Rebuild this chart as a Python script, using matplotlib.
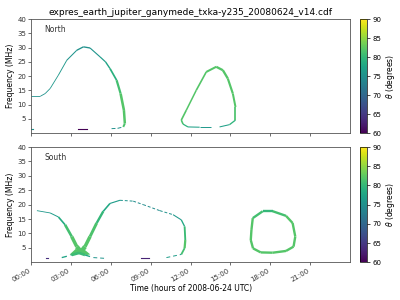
import numpy as np
import matplotlib
matplotlib.use("Agg")
import matplotlib.pyplot as plt
from matplotlib.collections import LineCollection
from matplotlib.colors import Normalize

title = "expres_earth_jupiter_ganymede_txka-y235_20080624_v14.cdf"

# North, arc 1 (hours, MHz, theta deg)
n1_t = [0.0, 0.7, 1.05, 1.43, 2.05, 2.68, 3.43, 3.93, 4.43, 5.18, 5.6, 5.93, 6.43, 6.73, 6.98, 7.05, 6.93]
n1_f = [13.0, 13.0, 13.9, 15.7, 20.4, 25.6, 29.1, 30.3, 29.9, 26.8, 25.0, 22.7, 18.6, 13.9, 8.1, 3.4, 2.2]
n1_th = [75, 75, 75, 76, 76, 76, 75, 75, 75, 76, 77, 78, 80, 82, 82, 82, 81]
n1b_t = [6.05, 6.5, 6.93]
n1b_f = [1.6, 1.7, 2.2]

# North, loop 2
n2_t = [13.93, 13.18, 12.43, 11.68, 11.3, 11.43, 11.8, 12.68, 13.5]
n2_f = [23.3, 21.5, 15.1, 8.1, 4.6, 3.2, 2.2, 2.1, 2.1]
n2_th = [82, 82, 82, 82, 82, 81, 78, 76, 76]
n2b_t = [14.18, 14.93, 15.38, 15.38, 15.18, 14.8, 14.43, 13.93]
n2b_f = [2.2, 3.0, 4.6, 9.2, 13.9, 19.2, 22.1, 23.3]
n2b_th = [76, 78, 81, 82, 82, 82, 82, 82]

# South, arc A (solid part, dotted top, solid end)
sa_t = [0.43, 1.43, 2.05, 2.55, 3.05, 3.43, 3.75, 4.05, 4.43, 4.93, 5.43, 5.93, 6.68]
sa_f = [17.9, 17.1, 15.7, 13.0, 8.9, 5.4, 3.6, 5.4, 8.9, 13.6, 17.7, 20.4, 21.5]
sa_th = [76, 76, 77, 80, 82, 82, 82, 82, 82, 81, 79, 77, 76]
sd_t = [6.68, 7.68, 8.43, 9.68, 10.68]
sd_f = [21.5, 21.2, 20.0, 17.9, 16.5]
sd_th = [76, 75, 74, 75, 75]
se_t = [10.68, 11.3, 11.55, 11.6, 11.55, 11.3]
se_f = [16.5, 14.7, 12.4, 7.7, 4.9, 2.7]
se_th = [75, 77, 79, 82, 82, 80]
sb_t = [2.3, 3.05, 3.6, 4.05, 4.68, 5.68]
sb_f = [1.6, 2.5, 3.2, 2.5, 1.6, 1.3]
sb_th = [76, 79, 82, 79, 76, 75]
sc_t = [10.18, 11.3]
sc_f = [1.6, 2.7]

# bow-tie patch where the South branches cross
bw_t = [2.9, 3.35, 3.63, 3.95, 4.45, 4.2, 3.63, 3.0]
bw_f = [2.7, 4.6, 4.0, 4.6, 2.7, 2.5, 3.0, 2.5]

# South, loop B
lb_t = [16.68, 17.43, 18.18, 19.18, 19.68, 19.88, 19.75, 19.18, 18.18, 17.28, 16.7, 16.53, 16.58, 16.68]
lb_f = [15.3, 17.7, 17.7, 16.1, 13.6, 8.9, 5.4, 3.9, 3.3, 3.4, 4.8, 7.7, 11.2, 15.3]
lb_th = [82, 80, 80, 82, 82, 82, 82, 82, 82, 82, 82, 82, 82, 82]

# short low-frequency bits (t0, t1, f, theta)
n_bits = [(0.0, 0.1, 1.5, 75), (3.5, 4.2, 1.5, 60)]
s_bits = [(1.15, 1.3, 1.3, 64), (8.3, 8.9, 1.3, 63)]

cmap = plt.get_cmap("viridis")
norm = Normalize(60, 90)


def draw(ax, t, f, th, w, ls="solid"):
    pts = np.column_stack([t, f])
    segs = np.stack([pts[:-1], pts[1:]], axis=1)
    th = np.asarray(th, float)
    w = np.asarray(w, float) if np.ndim(w) else np.full(len(t), w)
    lc = LineCollection(segs, colors=cmap(norm((th[:-1] + th[1:]) / 2)),
                        linewidths=(w[:-1] + w[1:]) / 2, linestyles=ls, capstyle="butt")
    ax.add_collection(lc)


plt.rcParams["font.size"] = 5.5
fig = plt.figure(figsize=(4, 3), dpi=100)
ax1 = fig.add_axes([0.078, 0.556, 0.797, 0.38])
ax2 = fig.add_axes([0.078, 0.126, 0.797, 0.384])
cax1 = fig.add_axes([0.9, 0.556, 0.018, 0.38])
cax2 = fig.add_axes([0.9, 0.126, 0.018, 0.384])

draw(ax1, n1_t, n1_f, n1_th, [0.6, 0.6, 0.6, 0.6, 0.6, 0.7, 0.8, 1.1, 0.8, 0.8, 0.9, 1.1, 1.4, 1.8, 1.9, 1.7, 1.1])
draw(ax1, n1b_t, n1b_f, [75] * 3, 0.7, (0, (4, 3)))
draw(ax1, n2_t, n2_f, n2_th, [1.6, 1.3, 1.1, 1.1, 1.3, 1.0, 0.8, 0.7, 0.7])
draw(ax1, n2b_t, n2b_f, n2b_th, [0.7, 0.8, 1.1, 1.4, 1.5, 1.6, 1.7, 1.6])
for t0, t1, f, th in n_bits:
    ax1.plot([t0, t1], [f, f], color=cmap(norm(th)), lw=0.8)

draw(ax2, sa_t, sa_f, sa_th, [0.6, 0.6, 0.8, 1.6, 2.2, 2.8, 3.6, 2.8, 2.2, 2.0, 1.4, 0.9, 0.7])
draw(ax2, sd_t, sd_f, sd_th, 0.7, (0, (3, 2)))
draw(ax2, se_t, se_f, se_th, [0.7, 0.8, 1.1, 1.6, 1.6, 1.0])
draw(ax2, sb_t, sb_f, sb_th, [0.7, 1.2, 2.6, 1.2, 0.7, 0.7], (0, (4, 3)))
draw(ax2, sc_t, sc_f, [75, 78], 0.7, (0, (4, 3)))
ax2.fill(bw_t, bw_f, color=cmap(norm(82)), lw=0)
draw(ax2, lb_t, lb_f, lb_th, 1.7)
for t0, t1, f, th in s_bits:
    ax2.plot([t0, t1], [f, f], color=cmap(norm(th)), lw=0.8)

ax1.text(1.0, 35.5, "North", fontsize=5.5, color="#333333")
ax2.text(1.0, 35.5, "South", fontsize=5.5, color="#333333")
ax1.set_title(title, fontsize=6.5, pad=3)

hours = [0, 3, 6, 9, 12, 15, 18, 21]
for ax in (ax1, ax2):
    ax.set_xlim(0, 24)
    ax.set_ylim(0, 40)
    ax.set_yticks([5, 10, 15, 20, 25, 30, 35, 40])
    ax.set_xticks(hours)
    ax.set_ylabel("Frequency (MHz)", fontsize=5.5, labelpad=2)
    ax.tick_params(length=2, width=0.5, pad=1.5, labelsize=5, colors="#333333")
    for s in ax.spines.values():
        s.set_linewidth(0.6)
        s.set_color("#555555")
ax1.set_xticklabels([])
ax2.set_xticklabels(["%02d:00" % h for h in hours], rotation=30, ha="right")
ax2.set_xlabel("Time (hours of 2008-06-24 UTC)", fontsize=5.5, labelpad=1)

for cax in (cax1, cax2):
    sm = plt.cm.ScalarMappable(norm=norm, cmap=cmap)
    cb = fig.colorbar(sm, cax=cax, ticks=[60, 65, 70, 75, 80, 85, 90])
    cb.set_label(r"$\theta$ (degrees)", fontsize=5.5, labelpad=2)
    cb.ax.tick_params(length=2, width=0.5, pad=1.5, labelsize=5)
    cb.outline.set_linewidth(0.5)

fig.savefig("out.png", dpi=100)
